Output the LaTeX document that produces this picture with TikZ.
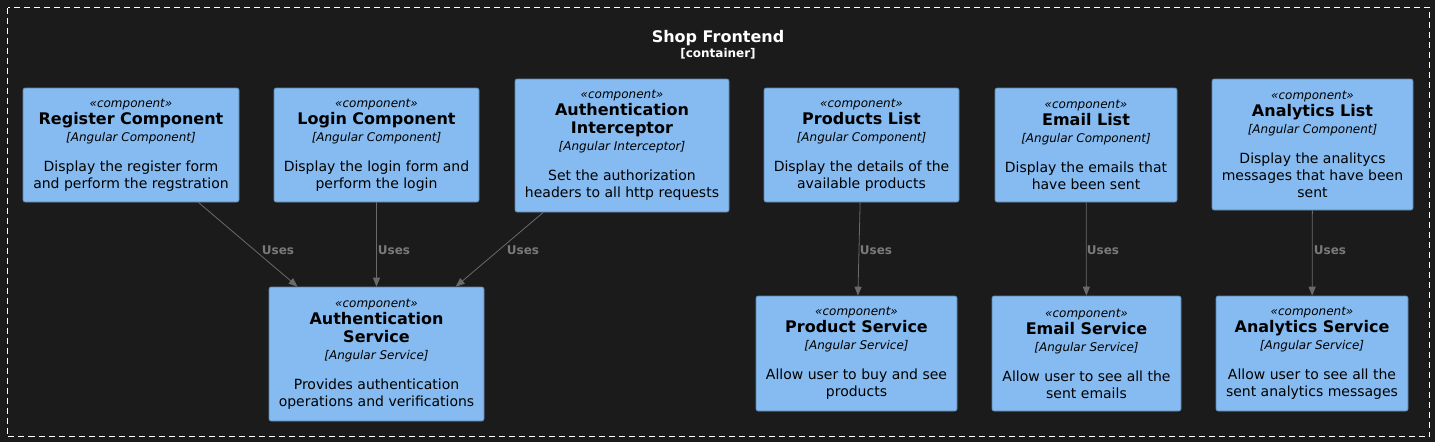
\documentclass[tikz,border=0pt]{standalone}
\usepackage{fontspec}
\setmainfont{DejaVu Sans}
\usetikzlibrary{arrows.meta}
\definecolor{bg}{HTML}{1B1B1B}
\definecolor{boxfill}{HTML}{85BBF0}
\definecolor{boxline}{HTML}{5D82A8}
\definecolor{arrowc}{HTML}{6A6A6A}
\definecolor{lblc}{HTML}{7A7A7A}
\newcommand{\st}{{\fontsize{12}{14}\selectfont\itshape «component»}}
\newcommand{\nm}[1]{{\fontsize{16}{19}\selectfont\bfseries #1}}
\newcommand{\tc}[1]{{\fontsize{12}{14}\selectfont\itshape [#1]}}
\begin{document}
\begin{tikzpicture}[x=1pt,y=-1pt,
  comp/.style={draw=boxline, line width=0.6pt, fill=boxfill, rounded corners=2pt,
    align=center, inner sep=0pt, font=\fontsize{14}{17}\selectfont, text=black},
  uses/.style={draw=arrowc, line width=0.8pt, -{Triangle[length=9pt,width=7pt]}},
  lbl/.style={text=lblc, font=\fontsize{12}{14}\selectfont\bfseries, inner sep=0pt}]
\fill[bg] (0,0) rectangle (1435,442);
\useasboundingbox (0,0) rectangle (1435,442);
\draw[white, line width=1pt, dash pattern=on 6pt off 4pt] (7.5,7.5) rectangle (1429.5,436.5);
\node[text=white, font=\fontsize{16}{18}\selectfont\bfseries] (title) at (718,38) {Shop Frontend};
\node[text=white, font=\fontsize{12}{13}\selectfont\bfseries] (ctype) at (718,54) {[container]};

\node[comp, minimum width=216pt, minimum height=114pt] (reg) at (131,145)
  {\st\\\nm{Register Component}\\\tc{Angular Component}\\[13pt]Display the register form\\and perform the regstration};
\node[comp, minimum width=205pt, minimum height=114pt] (login) at (376.5,145)
  {\st\\\nm{Login Component}\\\tc{Angular Component}\\[13pt]Display the login form and\\perform the login};
\node[comp, minimum width=214pt, minimum height=133pt] (inter) at (622,145.5)
  {\st\\\nm{Authentication}\\[1pt]\nm{Interceptor}\\\tc{Angular Interceptor}\\[13pt]Set the authorization\\headers to all http requests};
\node[comp, minimum width=195pt, minimum height=114pt] (plist) at (861.5,145)
  {\st\\\nm{Products List}\\\tc{Angular Component}\\[13pt]Display the details of the\\available products};
\node[comp, minimum width=182pt, minimum height=114pt] (elist) at (1086,145)
  {\st\\\nm{Email List}\\\tc{Angular Component}\\[13pt]Display the emails that\\have been sent};
\node[comp, minimum width=201pt, minimum height=131pt] (alist) at (1312.5,144.5)
  {\st\\\nm{Analytics List}\\\tc{Angular Component}\\[13pt]Display the analitycs\\messages that have been\\sent};

\node[comp, minimum width=215pt, minimum height=134pt] (asvc) at (376.5,354)
  {\st\\\nm{Authentication}\\[1pt]\nm{Service}\\\tc{Angular Service}\\[13pt]Provides authentication\\operations and verifications};
\node[comp, minimum width=201pt, minimum height=115pt] (psvc) at (856.5,353.5)
  {\st\\\nm{Product Service}\\\tc{Angular Service}\\[13pt]Allow user to buy and see\\products};
\node[comp, minimum width=189pt, minimum height=115pt] (esvc) at (1086.5,353.5)
  {\st\\\nm{Email Service}\\\tc{Angular Service}\\[13pt]Allow user to see all the\\sent emails};
\node[comp, minimum width=192pt, minimum height=115pt] (ansvc) at (1312,353.5)
  {\st\\\nm{Analytics Service}\\\tc{Angular Service}\\[13pt]Allow user to see all the\\sent analytics messages};

\draw[uses] (reg) -- (asvc);
\draw[uses] (login) -- (asvc);
\draw[uses] (inter) -- (asvc);
\draw[uses] (plist) -- (psvc);
\draw[uses] (elist) -- (esvc);
\draw[uses] (alist) -- (ansvc);

\node[lbl] (l1) at (278,250) {Uses};
\node[lbl] (l2) at (394,250) {Uses};
\node[lbl] (l3) at (523,250) {Uses};
\node[lbl] (l4) at (876,250) {Uses};
\node[lbl] (l5) at (1103,250) {Uses};
\node[lbl] (l6) at (1330,250) {Uses};
\end{tikzpicture}
\end{document}
